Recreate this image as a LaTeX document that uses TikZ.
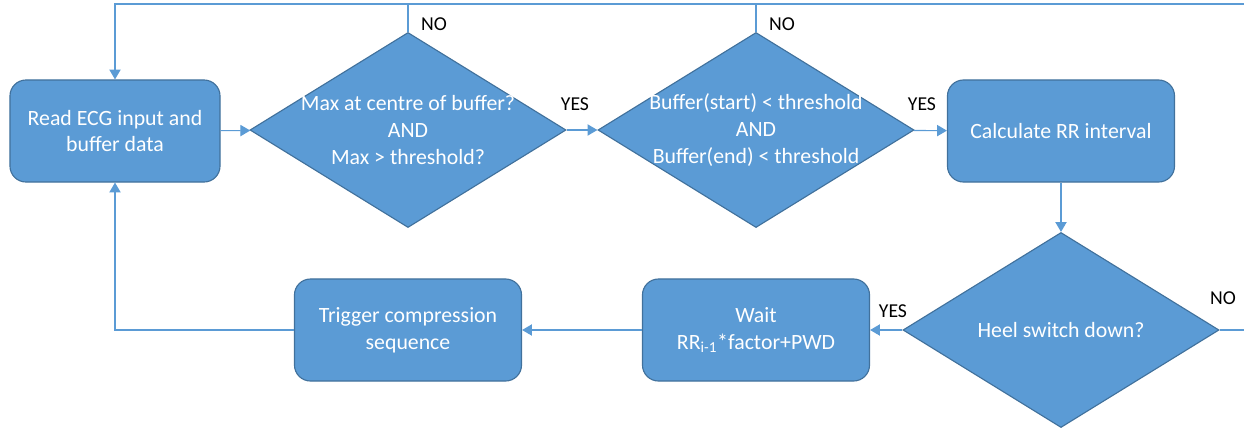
\documentclass[tikz,border=0pt]{standalone}
\usepackage{fontspec}
\setmainfont{Carlito}
\usetikzlibrary{shapes.geometric,arrows.meta}
\definecolor{boxblue}{HTML}{5B9BD5}
\definecolor{edgeblue}{HTML}{41719C}
\begin{document}
\begin{tikzpicture}[x=0.025cm,y=-0.025cm]
        \tikzset{box/.style={draw=edgeblue,fill=boxblue,line width=0.8pt,rounded corners=0.4cm,
            text=white,align=center,minimum height=2.55cm,font=\fontsize{15.5}{19}\selectfont},
          decision/.style={draw=edgeblue,fill=boxblue,line width=0.8pt,diamond,aspect=1.62,
            inner sep=-4pt,text=white,align=center,minimum width=7.9cm,minimum height=4.875cm,
            font=\fontsize{15.5}{19}\selectfont},
          flow/.style={draw=boxblue,line width=0.8pt},
          arr/.style={flow,-{Triangle[length=7pt,width=8pt]}},
          lbl/.style={font=\fontsize{14}{17}\selectfont,inner sep=0pt}}
        \useasboundingbox (0,0) rectangle (1244,429);
        \node[box,minimum width=5.25cm] (read) at (115,131) {Read ECG input and\\buffer data};
        \node[decision] (cent) at (408,130) {Max at centre of buffer?\\AND\\Max > threshold?};
        \node[decision] (ends) at (756,130) {Buffer(start) < threshold\\AND\\Buffer(end) < threshold};
        \node[box,minimum width=5.675cm] (calc) at (1061,131) {Calculate RR interval};
        \node[decision] (heel) at (1061,330) {Heel switch down?};
        \node[box,minimum width=5.675cm] (wait) at (756,330) {Wait\\RR\textsubscript{i-1}*factor+PWD};
        \node[box,minimum width=5.675cm] (trig) at (408,330) {Trigger compression\\sequence};
        \coordinate (topl) at (115,4);
        \coordinate (topr) at (1244,4);
        \coordinate (outr) at (1244,330);
        \draw[arr] (read) -- (cent);
        \draw[arr] (cent) -- (ends);
        \draw[arr] (ends) -- (calc);
        \draw[arr] (calc) -- (heel);
        \draw[arr] (heel) -- (wait);
        \draw[arr] (wait) -- (trig);
        \draw[arr] (trig.west) -| (read.south);
        \draw[arr] (topr) -- (topl) -- (read.north);
        \draw[flow] (cent.north) -- (cent.north |- topl);
        \draw[flow] (ends.north) -- (ends.north |- topl);
        \draw[flow] (heel.east) -- (outr);
        \node[lbl] (no1) at (434,24) {NO};
        \node[lbl] (no2) at (782,24) {NO};
        \node[lbl] (yes1) at (575,104) {YES};
        \node[lbl] (yes2) at (922,104) {YES};
        \node[lbl] (yes3) at (893,311) {YES};
        \node[lbl] (no3) at (1223,298) {NO};
      \end{tikzpicture}
\end{document}
